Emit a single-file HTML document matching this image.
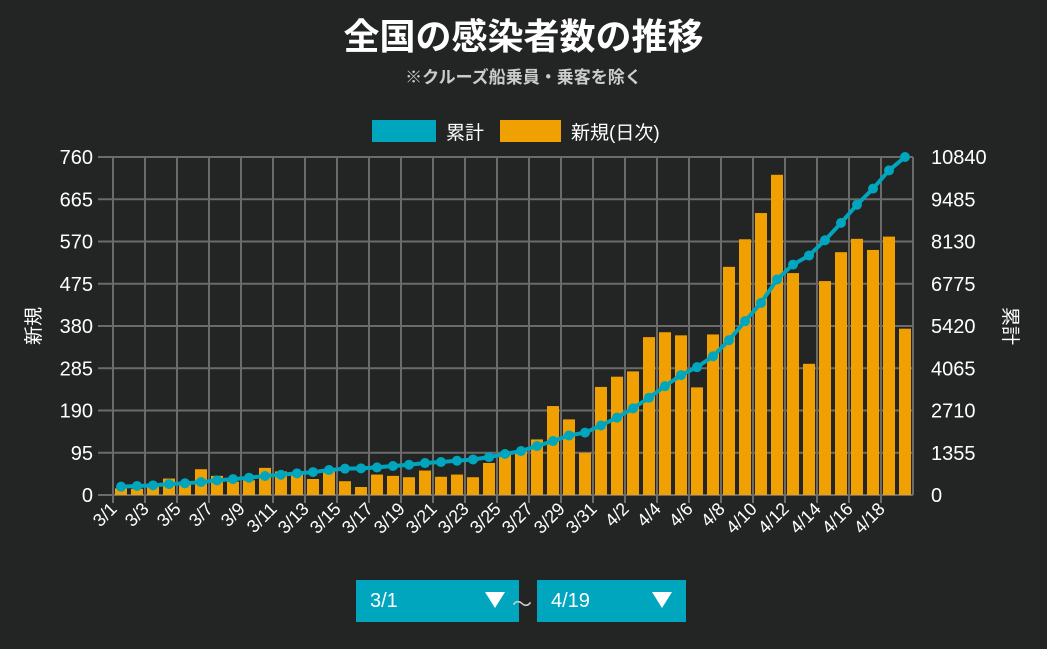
<!DOCTYPE html>
<html><head><meta charset="utf-8">
<style>
body{margin:0;width:1047px;height:649px;background:#222524;overflow:hidden;font-family:"Liberation Sans","Noto Sans CJK JP",sans-serif;color:#fff}
.t{position:absolute;left:0;width:1047px;text-align:center}
.dd{position:absolute;top:580px;height:42px;background:#00a5be;color:#fff;font-size:20px;line-height:42px;box-sizing:border-box;padding-left:14px}
.tri{position:absolute;right:14px;top:12px;width:0;height:0;border-left:10px solid transparent;border-right:10px solid transparent;border-top:16px solid #fff}
</style></head><body>
<div class="t" style="top:8px;font-size:36px;font-weight:bold">全国の感染者数の推移</div>
<div class="t" style="top:63px;font-size:17px;font-weight:bold;color:#ccc">※クルーズ船乗員・乗客を除く</div>
<svg width="1047" height="649" style="position:absolute;left:0;top:0" id="ch"></svg>
<div class="dd" style="left:356px;width:163px">3/1<span class="tri"></span></div>
<div style="position:absolute;left:512px;top:588px;font-size:20px;color:#ccc">〜</div>
<div class="dd" style="left:537px;width:149px">4/19<span class="tri"></span></div>
<script>
const dates=[];for(let d=1;d<=31;d++)dates.push('3/'+d);for(let d=1;d<=19;d++)dates.push('4/'+d);
const daily=[15,14,20,37,25,58,43,30,33,61,53,50,36,58,31,18,46,43,40,55,41,46,40,72,90,100,125,200,170,95,243,266,278,355,366,359,242,361,513,575,634,720,499,295,481,546,576,551,581,374];
const cumulative=[267,290,310,350,375,415,470,510,555,610,650,695,735,800,845,855,885,930,970,1025,1057,1100,1140,1215,1315,1410,1570,1730,1910,2000,2230,2480,2780,3120,3490,3845,4100,4450,4965,5575,6160,6910,7390,7680,8170,8725,9310,9825,10410,10840];
const leftTicks=[0,95,190,285,380,475,570,665,760];
const rightTicks=[0,1355,2710,4065,5420,6775,8130,9485,10840];
const NS='http://www.w3.org/2000/svg',svg=document.getElementById('ch');
const X0=113,BW=16,Y0=495,YT=157;
const yL=v=>Y0-(v/760)*(Y0-YT), yR=v=>Y0-(v/10840)*(Y0-YT), xc=i=>X0+BW*i+BW/2;
const X1=X0+BW*dates.length;
function mk(t,a,txt){const e=document.createElementNS(NS,t);for(const k in a)e.setAttribute(k,a[k]);if(txt!==undefined)e.textContent=txt;svg.appendChild(e);return e;}
leftTicks.forEach((v,i)=>{const y=yL(v);
const g=mk('line',{x1:98,x2:X1,y1:y,y2:y,stroke:'#6b6b6b','stroke-width':2});


const l=mk('text',{x:93,y:y+7,'text-anchor':'end',fill:'#fff','font-size':20},v);


const r=mk('text',{x:931,y:y+7,'text-anchor':'start',fill:'#fff','font-size':20},rightTicks[i]);

});
dates.forEach((d,i)=>{if(i%2)return;const x=X0+BW*i;
const g=mk('line',{x1:x,x2:x,y1:YT,y2:Y0+8,stroke:'#6b6b6b','stroke-width':2});


const t=mk('text',{x:x+5,y:Y0+15,'text-anchor':'end',fill:'#fff','font-size':18,transform:`rotate(-45 ${x+5} ${Y0+15})`},d);

});
mk('line',{x1:X1,x2:X1,y1:YT,y2:Y0,stroke:'#6b6b6b','stroke-width':2});
daily.forEach((v,i)=>{const b=mk('rect',{x:xc(i)-6,y:yL(v),width:12,height:Y0-yL(v),fill:'#f0a000'});

});
const ln=mk('polyline',{points:cumulative.map((v,i)=>xc(i)+','+yR(v)).join(' '),fill:'none',stroke:'#00a5be','stroke-width':4});


cumulative.forEach((v,i)=>{const c=mk('circle',{cx:xc(i),cy:yR(v),r:5,fill:'#00a5be'});

});
const a1=mk('text',{x:40,y:326,fill:'#fff','font-size':19,'text-anchor':'middle',transform:'rotate(-90 40 326)'},'新規');


const a2=mk('text',{x:1004,y:326,fill:'#fff','font-size':19,'text-anchor':'middle',transform:'rotate(90 1004 326)'},'累計');


const l1=mk('rect',{x:372,y:120,width:64,height:22,fill:'#00a5be'});


const lt1=mk('text',{x:446,y:139,fill:'#fff','font-size':19},'累計');


const l2=mk('rect',{x:500,y:120,width:61,height:22,fill:'#f0a000'});


const lt2=mk('text',{x:571,y:139,fill:'#fff','font-size':19},'新規(日次)');


</script>
</body></html>
